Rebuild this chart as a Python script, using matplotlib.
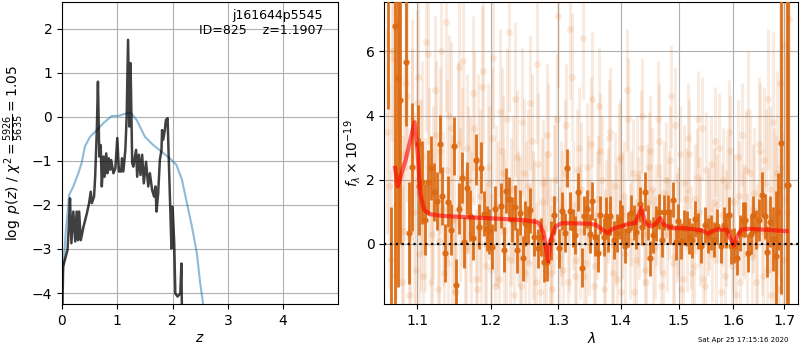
import numpy as np
import matplotlib
matplotlib.use("Agg")
import matplotlib.pyplot as plt
from matplotlib.ticker import NullLocator, NullFormatter

# ---------------- left panel data: log p(z) ----------------
z_pz = [0.0, 0.01, 0.02, 0.10, 0.12, 0.145, 0.17, 0.205, 0.24, 0.265, 0.29, 0.31, 0.34, 0.39,
        0.45, 0.49, 0.52, 0.54, 0.58, 0.60, 0.63, 0.65, 0.675, 0.70, 0.72, 0.75, 0.77,
        0.80, 0.82, 0.845, 0.87, 0.89, 0.93, 0.965, 1.0, 1.03, 1.07, 1.086, 1.11, 1.146,
        1.17, 1.195, 1.22, 1.24, 1.27, 1.29, 1.34, 1.36, 1.39, 1.42, 1.45, 1.48, 1.52,
        1.56, 1.59, 1.63, 1.665, 1.69, 1.71, 1.74, 1.77, 1.80, 1.81, 1.83, 1.86, 1.88,
        1.91, 1.93, 1.98, 2.0, 2.03, 2.05, 2.09, 2.14, 2.16, 2.17]
logpz = [-4.4, -4.23, -3.40, -3.02, -2.57, -1.85, -2.87, -2.15, -2.83, -2.15, -2.80, -2.15, -2.80,
         -2.49, -2.19, -1.96, -1.70, -1.96, -1.81, -1.36, -0.30, 0.80, -0.90, -0.64, -1.58,
         -0.90, -1.36, -0.83, -1.28, -0.94, -1.20, -0.98, -1.28, -1.17, -0.48, -1.24, -1.24,
         -0.94, -1.24, -0.75, 0.01, 1.75, -0.22, 1.22, -1.05, -1.13, -0.75, -1.36, -0.86,
         -1.32, -0.86, -1.51, -1.02, -1.58, -1.28, -1.66, -1.81, -1.58, -2.15, -1.73, -0.98,
         -0.75, -0.30, -0.52, -0.30, -0.07, -0.03, -0.90, -2.99, -2.04, -2.87, -4.01, -4.08,
         -4.01, -3.33, -4.5]

z_prior = [0.0, 0.07, 0.13, 0.205, 0.295, 0.355, 0.416, 0.507, 0.63, 0.75, 0.90, 1.02, 1.14,
           1.24, 1.35, 1.50, 1.65, 1.80, 1.95, 2.07, 2.17, 2.26, 2.35, 2.44, 2.50, 2.55, 2.60]
logprior = [-3.9, -2.57, -1.77, -1.58, -1.28, -1.05, -0.67, -0.45, -0.30, -0.14, 0.02, 0.02,
            0.07, 0.10, -0.07, -0.45, -0.64, -0.79, -0.94, -1.09, -1.43, -1.96, -2.49, -3.10,
            -3.78, -4.23, -4.8]

z_best = 1.1907
obj_id = 825
root = "j161644p5545"
chi2_num, chi2_den = 5926, 5635

# ---------------- right panel data: spectrum ----------------
bin_lam = [1.0624, 1.0663, 1.0717, 1.0750, 1.0785, 1.0853, 1.0891, 1.0930, 1.1008, 1.1030,
           1.1065, 1.1109, 1.1139, 1.1184, 1.1218, 1.1258, 1.1298, 1.1325, 1.1365, 1.1406,
           1.1446, 1.1487, 1.1514, 1.1555, 1.1596, 1.1633, 1.1665, 1.1716, 1.1748, 1.1790,
           1.1832, 1.1866, 1.1903, 1.1944, 1.1982, 1.2021, 1.2068, 1.2144, 1.2193, 1.2222,
           1.2260, 1.2303, 1.2347, 1.2386, 1.2426, 1.2465, 1.2505, 1.2545, 1.2582, 1.2634,
           1.2702, 1.2743, 1.2784, 1.2833, 1.2884, 1.2936, 1.3007, 1.3059, 1.3100, 1.3142,
           1.3184, 1.3225, 1.3266, 1.3318, 1.3372, 1.3403, 1.3455, 1.3499, 1.3540, 1.3583,
           1.3627, 1.3669, 1.3724, 1.3757, 1.3789, 1.3831, 1.3897, 1.3941, 1.3986, 1.4030,
           1.4074, 1.4129, 1.4174, 1.4220, 1.4264, 1.4321, 1.4366, 1.4416, 1.4458, 1.4501,
           1.4548, 1.4594, 1.4651, 1.4698, 1.4744, 1.4803, 1.4849, 1.4897, 1.4945, 1.4990,
           1.5039, 1.5098, 1.5146, 1.5190, 1.5236, 1.5295, 1.5344, 1.5404, 1.5466, 1.5526,
           1.5587, 1.5637, 1.5687, 1.5762, 1.5824, 1.5861, 1.5912, 1.5961, 1.6012, 1.6075,
           1.6126, 1.6178, 1.6228, 1.6280, 1.6332, 1.6381, 1.6434, 1.6498, 1.6551, 1.6604,
           1.6656, 1.6709, 1.6774, 1.6828, 1.6868, 1.6934, 1.7055, 1.7068]
bin_flux = [8.0, -2.2, 6.8, 5.17, 4.49, 5.67, 0.34, 2.40, 3.12, 1.79,
            1.92, 0.76, 1.92, 2.37, 1.62, 1.35, 3.12, 1.50, -0.28, 1.32,
            0.45, 3.06, -1.27, 1.10, 2.06, 0.05, 1.74, 0.88, 0.20, 2.63,
            0.53, 2.38, 0.94, 0.47, 0.40, -0.09, 1.09, 1.19, -0.18, 1.65,
            1.40, 0.75, 1.15, -0.20, 0.97, -0.45, 0.65, 0.59, 1.05, 0.22,
            -0.14, 0.22, -0.57, -0.55, 0.11, 0.90, -0.14, 1.03, 0.35, 2.37,
            1.03, 0.50, 0.28, 1.62, -0.74, 0.88, 1.09, 0.32, 1.34, 0.22,
            -0.28, 0.90, 0.22, 0.86, 0.34, 0.88, 0.13, 0.34, 0.76, 0.60,
            -0.05, 0.45, 0.97, 0.67, 0.38, 1.23, 0.53, 1.63, 0.67, -0.45,
            0.28, 0.63, 1.01, 0.13, 0.99, 0.99, 0.55, 1.38, 0.05, 0.70,
            0.09, 0.51, 0.49, 0.25, 0.11, 0.78, 0.40, -0.05, 0.59, 0.26,
            0.36, 0.13, 0.55, -0.05, 0.59, 0.42, 0.90, -0.07, -0.05, -0.43,
            0.34, 0.76, 0.76, -0.28, 0.30, 0.90, 0.45, 0.74, 1.53, 0.86,
            -0.24, 0.69, 0.16, -0.36, 1.01, 3.15, 1.85, 1.85]
bin_err = [3.8, 3.35, 9.0, 6.5, 4.5, 2.0, 1.6, 2.0, 1.2, 1.5,
           1.3, 1.1, 1.0, 1.0, 0.9, 0.9, 0.9, 0.9, 0.9, 0.8,
           0.8, 0.9, 0.8, 0.8, 0.8, 0.8, 0.8, 0.8, 0.7, 0.8,
           0.7, 0.8, 0.7, 0.7, 0.7, 0.7, 0.7, 0.7, 0.7, 0.7,
           0.7, 0.7, 0.7, 0.7, 0.7, 0.7, 0.7, 0.6, 0.7, 0.6,
           0.6, 0.6, 0.6, 0.6, 0.6, 0.6, 0.6, 0.6, 0.6, 0.6,
           0.6, 0.6, 0.6, 0.6, 0.6, 0.6, 0.6, 0.6, 0.6, 0.6,
           0.6, 0.6, 0.6, 0.6, 0.6, 0.6, 0.6, 0.6, 0.6, 0.6,
           0.55, 0.55, 0.55, 0.55, 0.55, 0.55, 0.55, 0.6, 0.55, 0.55,
           0.55, 0.55, 0.55, 0.55, 0.55, 0.55, 0.55, 0.55, 0.55, 0.55,
           0.55, 0.55, 0.55, 0.55, 0.55, 0.55, 0.55, 0.55, 0.55, 0.55,
           0.55, 0.55, 0.55, 0.55, 0.55, 0.55, 0.55, 0.55, 0.55, 0.55,
           0.55, 0.55, 0.55, 0.6, 0.6, 0.6, 0.6, 0.65, 0.7, 0.7,
           0.8, 0.8, 1.0, 2.0, 1.2, 4.7, 12.0, 12.0]

faint_lam_a = [1.062, 1.066, 1.069, 1.073, 1.076, 1.080, 1.083, 1.087, 1.091, 1.094,
               1.098, 1.101, 1.105, 1.108, 1.112, 1.116, 1.119, 1.123, 1.127, 1.130,
               1.134, 1.138, 1.141, 1.145, 1.149, 1.152, 1.156, 1.160, 1.164, 1.167,
               1.171, 1.175, 1.179, 1.183, 1.186, 1.190, 1.194, 1.198, 1.202, 1.206,
               1.210, 1.214, 1.218, 1.222, 1.226, 1.230, 1.234, 1.238, 1.242, 1.246,
               1.250, 1.254, 1.258, 1.262, 1.266, 1.270, 1.275, 1.279, 1.283, 1.287,
               1.291, 1.296, 1.300, 1.304, 1.308, 1.313, 1.317, 1.321, 1.326, 1.330,
               1.334, 1.339, 1.343, 1.347, 1.352, 1.356, 1.361, 1.365, 1.370, 1.374,
               1.379, 1.383, 1.388, 1.392, 1.397, 1.401, 1.406, 1.411, 1.415, 1.420,
               1.425, 1.429, 1.434, 1.439, 1.443, 1.448, 1.453, 1.458, 1.463, 1.467,
               1.472, 1.477, 1.482, 1.487, 1.492, 1.497, 1.502, 1.507, 1.512, 1.517,
               1.522, 1.527, 1.532, 1.537, 1.542, 1.547, 1.552, 1.558, 1.563, 1.568,
               1.573, 1.579, 1.584, 1.589, 1.594, 1.600, 1.605, 1.611, 1.616, 1.621,
               1.627, 1.632, 1.638, 1.643, 1.649, 1.655, 1.660, 1.666, 1.671, 1.677,
               1.683, 1.689, 1.694, 1.700, 1.706]
faint_flux_a = [3.5, -0.5, 5.8, 1.2, 6.9, -1.2, 2.8, 4.6, 0.2, 3.9, -0.8,
                5.2, 1.5, -1.0, 6.3, 2.4, 0.3, 4.8, -1.4, 2.9, 1.1, 6.9, -0.6, 3.6, 0.8, -1.5, 5.5, 2.1, -0.2, 3.0,
                1.4, 4.7, -1.1, 2.6, 0.5, 5.4, -0.7, 1.9, 3.3, -1.3, 0.9, 4.1, 2.2, -0.4, 6.6, 1.0, -1.6, 2.7, 0.2, 3.8,
                -0.9, 1.8, 4.4, 0.6, -1.2, 2.5, 1.3, -0.3, 3.4, 0.0, -1.4, 2.0, 7.1, 1.1, -0.8, 3.7, 0.7, 5.2, -1.0, 2.3,
                0.4, 6.4, -0.6, 1.6, 3.1, -1.3, 0.9, 4.3, 2.0, -0.2, 1.2, 3.5, -0.9, 0.6, 2.6, -1.5, 1.5, 4.8, 0.1, 2.2,
                -0.5, 1.0, 3.0, 0.3, -1.2, 2.4, 1.7, -0.1, 3.9, 0.8, -0.9, 2.0, 1.2, 4.6, -0.4, 0.5, 2.8, -1.1, 1.4, 3.3,
                0.2, -0.7, 2.1, 1.0, 3.6, -1.3, 0.6, 2.5, 1.3, -0.5, 3.0, 0.9, -1.0, 1.8, 2.9, 0.0, -1.6, 1.5, 3.4, 0.7,
                -0.3, 2.2, 1.1, -1.2, 3.1, 0.4, 2.6, -0.8, 1.7, 3.8, 0.2, -1.4, 2.4, 6.2, 1.0]
faint_lam_b = [1.064, 1.068, 1.071, 1.075, 1.078, 1.082, 1.085, 1.089, 1.093, 1.096,
               1.100, 1.103, 1.107, 1.110, 1.114, 1.118, 1.121, 1.125, 1.129, 1.132,
               1.136, 1.140, 1.143, 1.147, 1.151, 1.154, 1.158, 1.162, 1.166, 1.169,
               1.173, 1.177, 1.181, 1.185, 1.188, 1.192, 1.196, 1.200, 1.204, 1.208,
               1.212, 1.216, 1.220, 1.224, 1.228, 1.232, 1.236, 1.240, 1.244, 1.248,
               1.252, 1.256, 1.260, 1.264, 1.268, 1.272, 1.277, 1.281, 1.285, 1.289,
               1.293, 1.298, 1.302, 1.306, 1.310, 1.315, 1.319, 1.323, 1.328, 1.332,
               1.336, 1.341, 1.345, 1.349, 1.354, 1.358, 1.363, 1.367, 1.372, 1.376,
               1.381, 1.385, 1.390, 1.394, 1.399, 1.403, 1.408, 1.413, 1.417, 1.422,
               1.427, 1.431, 1.436, 1.441, 1.445, 1.450, 1.455, 1.460, 1.465, 1.469,
               1.474, 1.479, 1.484, 1.489, 1.494, 1.499, 1.504, 1.509, 1.514, 1.519,
               1.524, 1.529, 1.534, 1.539, 1.544, 1.549, 1.555, 1.560, 1.565, 1.570,
               1.576, 1.581, 1.586, 1.591, 1.597, 1.602, 1.608, 1.613, 1.618, 1.624,
               1.629, 1.635, 1.640, 1.646, 1.652, 1.657, 1.663, 1.668, 1.674, 1.680,
               1.686, 1.691, 1.697, 1.703, 1.709]
faint_flux_b = [1.8, 6.0, -1.0, 4.2, 2.1, 0.4, 5.0, -1.6, 3.2, 1.0,
                4.4, -0.3, 2.7, 0.9, 5.9, -1.2, 1.6, 3.4, 0.1, 6.0,
                -0.9, 2.3, 4.0, 0.7, -1.5, 3.1, 1.2, 5.7, -0.1, 2.0,
                0.3, 3.6, -1.4, 1.5, 4.9, 0.0, 2.4, -0.8, 5.8, 1.2,
                -1.1, 2.9, 0.4, 3.9, -0.5, 1.7, 4.5, 0.8, -1.3, 2.2,
                1.0, -0.6, 3.2, 0.3, 5.6, -1.5, 1.9, 0.5, 2.8, -0.9,
                1.4, 3.9, -0.4, 0.8, 2.2, -1.2, 6.7, 1.2, -0.5, 3.0,
                1.7, -1.0, 2.4, 0.2, 4.5, -0.7, 1.4, 2.9, -1.4, 0.7,
                3.3, 0.0, 1.8, -1.1, 2.7, 0.9, -0.3, 3.9, 1.1, -1.5,
                2.1, 0.6, 4.0, -0.8, 1.3, 2.9, -0.2, 0.9, 3.2, -1.3,
                1.6, 0.3, 2.6, -0.6, 3.7, 0.7, -1.4, 1.9, 0.1, 2.8,
                -0.9, 1.4, 3.9, 0.4, -1.1, 2.3, 0.8, -0.3, 3.2, 1.2,
                -1.5, 2.0, 0.5, 3.5, -0.7, 1.3, 2.7, -1.2, 0.6, 2.3,
                4.1, -0.4, 1.6, 0.0, 2.9, -1.0, 1.9, 4.5, -1.6, 0.8,
                2.2, 5.0, -0.5, 1.4, 7.0]
faint_err = [3.2, 2.8, 3.5, 2.9, 3.4, 3.0, 2.7, 3.3, 2.9, 3.1,
             2.9, 2.6, 3.0, 2.4, 2.8, 2.5, 2.7, 2.3, 2.9, 2.6,
             2.4, 2.8, 2.5, 2.7, 2.3, 2.6, 2.4, 2.8, 2.5, 2.3,
             2.6, 2.4, 2.2, 2.7, 2.5, 2.3, 2.6, 2.4, 2.2, 2.5,
             2.3, 2.6, 2.4, 2.2, 2.5, 2.3, 2.4, 2.1, 2.5, 2.3,
             2.2, 2.4, 2.1, 2.3, 2.5, 2.2, 2.0, 2.4, 2.2, 2.1,
             2.3, 2.0, 2.2, 2.1, 2.3, 1.9, 2.2, 2.0, 2.1, 1.9,
             2.1, 1.9, 2.0, 1.8, 2.1, 1.9, 2.0, 1.8, 2.0, 1.9,
             1.8, 2.0, 1.7, 1.9, 1.8, 2.0, 1.7, 1.9, 1.8, 1.7,
             1.9, 1.7, 1.8, 1.6, 1.8, 1.7, 1.9, 1.6, 1.8, 1.7,
             1.6, 1.8, 1.7, 1.6, 1.8, 1.7, 1.5, 1.8, 1.6, 1.7,
             1.6, 1.7, 1.5, 1.7, 1.6, 1.8, 1.6, 1.5, 1.7, 1.6,
             1.7, 1.6, 1.8, 1.6, 1.7, 1.5, 1.8, 1.7, 1.6, 1.8,
             1.9, 1.8, 2.0, 1.9, 2.1, 2.0, 2.3, 2.2, 2.6, 2.8,
             3.2, 3.6, 4.0, 4.5, 5.0]

model_lam = [1.0717, 1.0750, 1.0853, 1.0967, 1.1008, 1.1040, 1.1090, 1.1160, 1.1314, 1.1600,
             1.2000, 1.2500, 1.2702, 1.2780, 1.2826, 1.2848, 1.2889, 1.2965, 1.3059, 1.3300,
             1.3499, 1.3600, 1.3697, 1.3789, 1.3850, 1.4000, 1.4145, 1.4245, 1.4295, 1.4350,
             1.4416, 1.4515, 1.4595, 1.4671, 1.4744, 1.4900, 1.5100, 1.5300, 1.5420, 1.5530,
             1.5600, 1.5700, 1.5870, 1.5930, 1.6012, 1.6075, 1.6150, 1.6320, 1.6550, 1.7040]
model_flux = [2.37, 1.79, 2.63, 3.79, 2.83, 1.59, 1.07, 0.93, 0.88, 0.84,
              0.80, 0.74, 0.67, 0.34, -0.28, -0.54, 0.13, 0.55, 0.65, 0.64,
              0.63, 0.59, 0.45, 0.34, 0.45, 0.55, 0.63, 0.65, 0.86, 1.12,
              0.63, 0.55, 0.63, 0.81, 0.59, 0.49, 0.49, 0.45, 0.42, 0.32,
              0.40, 0.45, 0.45, 0.22, -0.05, 0.24, 0.45, 0.47, 0.45, 0.40]

date_str = "Sat Apr 25 17:15:16 2020"

# ---------------- figure ----------------
orange = '#dc6a12'
fig = plt.figure(figsize=(8, 3.5), dpi=100)
ax1 = fig.add_axes([0.0775, 0.1314, 0.3455, 0.8643])
ax2 = fig.add_axes([0.4803, 0.1314, 0.5175, 0.8643])

ax1.plot(z_prior, logprior, color='C0', alpha=0.5, lw=1.5)
ax1.plot(z_pz, logpz, color='k', alpha=0.75, lw=1.8)
ax1.set_xlim(0, 5.0)
ax1.set_ylim(-4.25, 2.62)
ax1.set_xticks([0, 1, 2, 3, 4])
ax1.set_yticks([-4, -3, -2, -1, 0, 1, 2])
ax1.grid(True, color='#b0b0b0', lw=0.8)
ax1.set_axisbelow(True)
ax1.set_xlabel('$z$', labelpad=2)
ax1.set_ylabel(r'$\log\ p(z)$' + r' / $\chi^2=\frac{%d}{%d}=%.2f$' % (chi2_num, chi2_den, chi2_num / chi2_den))
ax1.text(0.945, 0.975, '%s\nID=%d    z=%.4f' % (root, obj_id, z_best), ha='right', va='top',
         transform=ax1.transAxes, fontsize=9)

ax2.set_xscale('log')
ax2.errorbar(faint_lam_a, faint_flux_a, yerr=faint_err, fmt='o', color=orange, alpha=0.13,
             ms=5, elinewidth=2.2, mew=0)
ax2.errorbar(faint_lam_b, faint_flux_b, yerr=faint_err, fmt='o', color=orange, alpha=0.13,
             ms=5, elinewidth=2.2, mew=0)
ax2.errorbar(bin_lam, bin_flux, yerr=bin_err, fmt='o', color=orange, alpha=0.95,
             ms=4.5, elinewidth=2, mew=0, zorder=3)
ax2.plot(model_lam, model_flux, color='red', alpha=0.6, lw=3, zorder=4)
ax2.axhline(0, color='k', ls=':', lw=1.6, zorder=5)
ax2.set_xlim(1.058, 1.728)
ax2.set_ylim(-1.87, 7.55)
lam_ticks = [1.1, 1.2, 1.3, 1.4, 1.5, 1.6, 1.7]
ax2.set_xticks(lam_ticks)
ax2.set_xticklabels(['%.1f' % t for t in lam_ticks])
ax2.xaxis.set_minor_locator(NullLocator())
ax2.xaxis.set_minor_formatter(NullFormatter())
ax2.set_yticks([0, 2, 4, 6])
ax2.grid(True, color='#b0b0b0', lw=0.8)
ax2.set_axisbelow(True)
ax2.set_xlabel(r'$\lambda$', labelpad=2)
ax2.set_ylabel(r'$f_\lambda\times10^{-19}$', labelpad=2)

fig.text(0.985, 0.028, date_str, ha='right', va='center', fontsize=5)

fig.savefig('out.png', dpi=100)
